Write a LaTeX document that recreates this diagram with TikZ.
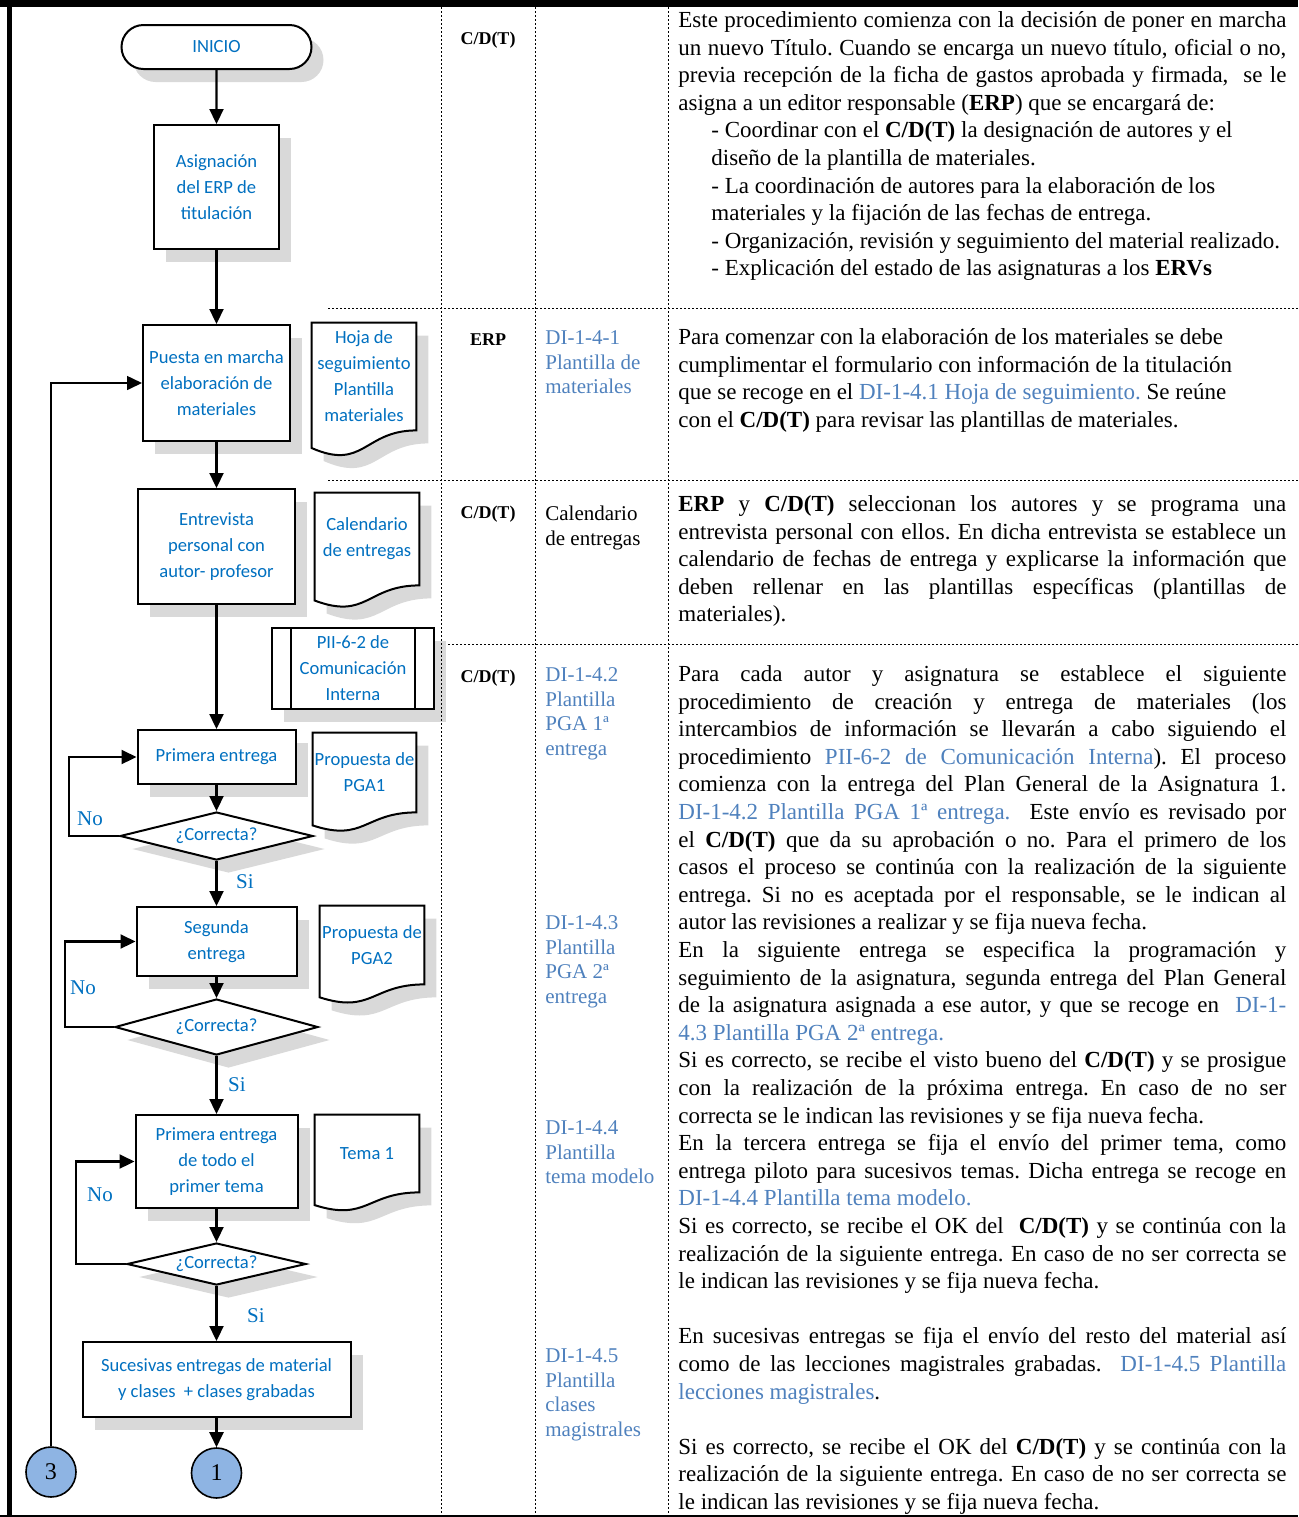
\documentclass[tikz,border=0pt]{standalone}
\usepackage{fontspec}
\setmainfont{Liberation Serif}
\newfontfamily\flowfont{Carlito}
\usepackage{xcolor}
\usepackage{tikz}
\usetikzlibrary{arrows.meta,shapes.geometric,shapes.misc,shadows,backgrounds,calc}

\definecolor{flowblue}{RGB}{0,112,192}
\definecolor{linkblue}{RGB}{79,129,189}
\definecolor{shadowgray}{RGB}{217,217,217}
\definecolor{connfill}{RGB}{142,180,227}

\newcommand{\jline}[1]{\hbox to\hsize{\strut#1}}
\newcommand{\rline}[1]{\hbox{\strut#1}}
\newcommand{\lnk}[1]{{\color{linkblue}#1}}
\newcommand{\docpath}[3]{([shift={#3}]#1.north west) -- ([shift={#3}]#1.north east) -- ([shift={#3}]#1.south east) .. controls ([shift={#3}]#1.south) and ([shift={#3},yshift=-2.31*#2]#1.south) .. ([shift={#3},yshift=-#2]#1.south west) -- cycle}

\tikzstyle{boxshadow}=[drop shadow={shadow xshift=6pt,shadow yshift=-6.5pt,fill=shadowgray,opacity=1}]
\tikzstyle{flowtext}=[font=\flowfont\fontsize{9.3}{13}\selectfont, text=flowblue, align=center]
\tikzstyle{procbox}=[draw, line width=1pt, fill=white, boxshadow, flowtext, inner sep=0pt]
\tikzstyle{termbox}=[rounded rectangle, procbox]
\tikzstyle{decbox}=[diamond, aspect=4, procbox]
\tikzstyle{docbox}=[flowtext, inner sep=0pt]
\tikzstyle{connbox}=[circle, draw, line width=0.8pt, fill=connfill, inner sep=0pt, minimum size=25pt, font=\fontsize{12}{14}\selectfont]
\tikzstyle{flowarrow}=[line width=1.1pt, -{Triangle[length=7.5pt,width=7pt]}]
\tikzstyle{backarrow}=[line width=0.8pt, -{Triangle[length=7.5pt,width=7pt]}]
\tikzstyle{answer}=[font=\fontsize{10.5}{12}\selectfont, text=flowblue]
\tikzstyle{gridline}=[line width=0.5pt, dash pattern=on 1pt off 1pt]
\tikzstyle{bodytext}=[anchor=north west, inner sep=0pt, font=\fontsize{11.5}{13.8}\selectfont]
\tikzstyle{reftext}=[anchor=north west, inner sep=0pt, font=\fontsize{10.5}{12.25}\selectfont, text=linkblue]
\tikzstyle{resp}=[font=\bfseries\fontsize{9}{11}\selectfont]

\begin{document}
\frenchspacing
\begin{tikzpicture}[x=0.5pt, y=-0.5pt]
    \useasboundingbox (0,0) rectangle (1298,1517);

    \foreach \yy in {308,480,644} \draw[gridline] (328,\yy) -- (1298,\yy);

    \node[termbox, minimum width=95pt, minimum height=22pt] (inicio) at (216.5,47) {INICIO};
    \node[procbox, minimum width=62.5pt, minimum height=62pt] (asig) at (216.5,187) {Asignación\\del ERP de\\titulación};
    \node[procbox, minimum width=73.5pt, minimum height=58pt] (puesta) at (216.5,383) {Puesta en marcha\\elaboración de\\materiales};
    \node[procbox, minimum width=78.5pt, minimum height=57.5pt] (entrev) at (216.5,546.5) {Entrevista\\personal con\\autor- profesor};
    \node[procbox, minimum width=81pt, minimum height=40.5pt] (pii) at (353,668.5) {PII-6-2 de\\Comunicación\\Interna};
    \draw[line width=1pt] ([xshift=10pt]pii.north west) -- ([xshift=10pt]pii.south west);
    \draw[line width=1pt] ([xshift=-10pt]pii.north east) -- ([xshift=-10pt]pii.south east);
    \node[procbox, minimum width=79pt, minimum height=27pt] (prim) at (216.5,757) {Primera entrega};
    \node[decbox, minimum width=96.5pt, minimum height=24pt] (dec1) at (216.5,836) {¿Correcta?};
    \node[procbox, minimum width=80pt, minimum height=34.5pt] (seg) at (216.5,941.5) {Segunda\\entrega};
    \node[decbox, minimum width=101.5pt, minimum height=28pt] (dec2) at (216.5,1027) {¿Correcta?};
    \node[procbox, minimum width=81pt, minimum height=46.5pt] (tema) at (216.5,1161.5) {Primera entrega\\de todo el\\primer tema};
    \node[decbox, minimum width=89.5pt, minimum height=21pt] (dec3) at (216.5,1264) {¿Correcta?};
    \node[procbox, minimum width=134pt, minimum height=37.5pt] (suc) at (216.5,1379.5) {Sucesivas entregas de material\\y clases~\ + clases grabadas};
    \node[connbox] (conA) at (216.5,1473) {1};
    \node[connbox] (conC) at (51,1472) {3};

    \node[docbox, minimum width=52pt, minimum height=53.5pt] (hoja) at (364,376.5) {Hoja de\\seguimiento\\Plantilla\\materiales};
    \node[docbox, minimum width=52pt, minimum height=46pt] (calend) at (367,539) {Calendario\\de entregas};
    \node[docbox, minimum width=51.5pt, minimum height=39.5pt] (pga1) at (364.5,772.5) {Propuesta de\\PGA1};
    \node[docbox, minimum width=52pt, minimum height=39pt] (pga2) at (372,945) {Propuesta de\\PGA2};
    \node[docbox, minimum width=52pt, minimum height=38.5pt] (temauno) at (367,1153.5) {Tema 1};
    \begin{scope}[on background layer]
        \foreach \dn/\dd in {hoja/8.8pt, calend/7.55pt, pga1/6.5pt, pga2/6.45pt, temauno/6.35pt}{
            \fill[shadowgray] \docpath{\dn}{\dd}{(12,13)};
            \filldraw[fill=white, line width=1pt] \docpath{\dn}{\dd}{(0,0)};
        }
    \end{scope}

    \draw[flowarrow] (inicio) -- (asig);
    \draw[flowarrow] (asig) -- (puesta);
    \draw[flowarrow] (puesta) -- (entrev);
    \draw[flowarrow] (entrev) -- (prim);
    \draw[flowarrow] (prim) -- (dec1);
    \draw[flowarrow] (dec1) -- (seg);
    \draw[flowarrow] (seg) -- (dec2);
    \draw[flowarrow] (dec2) -- (tema);
    \draw[flowarrow] (tema) -- (dec3);
    \draw[flowarrow] (dec3) -- (suc);
    \draw[flowarrow] (suc) -- (conA);
    \draw[flowarrow] (dec1.west) -- ++(-50,0) |- (prim.west);
    \draw[flowarrow] (dec2.west) -- ++(-49,0) |- (seg.west);
    \draw[flowarrow] (dec3.west) -- ++(-50,0) |- (tema.west);
    \draw[backarrow] (conC) |- (puesta.west);

    \node[answer] (no1) at (90,819) {No};
    \node[answer] (si1) at (245,882) {Si};
    \node[answer] (no2) at (83,988) {No};
    \node[answer] (si2) at (237,1085) {Si};
    \node[answer] (no3) at (100,1195) {No};
    \node[answer] (si3) at (256,1316) {Si};

    \foreach \xx in {441,535,668} \draw[gridline] (\xx,7) -- (\xx,1515);

    \draw[line width=3.5pt] (0,3.5) -- (1298,3.5);
    \draw[line width=2.5pt] (9.5,0) -- (9.5,1517);
    \draw[line width=1pt] (0,1515.5) -- (1298,1515.5);

    \node[resp] (respA) at (488,40) {C/D(T)};
    \node[resp] (respB) at (488,340) {ERP};
    \node[resp] (respC) at (488,514) {C/D(T)};
    \node[resp] (respD) at (488,678) {C/D(T)};

    \node[reftext] (refmat) at (545,327.4) {\vbox{\rline{DI-1-4-1}\rline{Plantilla de}\rline{materiales}}};
    \node[reftext, text=black] (refcal) at (545,503.4) {\vbox{\rline{Calendario}\rline{de entregas}}};
    \node[reftext] (refpga1) at (545,664.4) {\vbox{\rline{DI-1-4.2}\rline{Plantilla}\rline{PGA 1ª}\rline{entrega}}};
    \node[reftext] (refpga2) at (545,912.4) {\vbox{\rline{DI-1-4.3}\rline{Plantilla}\rline{PGA 2ª}\rline{entrega}}};
    \node[reftext] (reftema) at (545,1117.4) {\vbox{\rline{DI-1-4.4}\rline{Plantilla}\rline{tema modelo}}};
    \node[reftext] (refclases) at (545,1345.4) {\vbox{\rline{DI-1-4.5}\rline{Plantilla}\rline{clases}\rline{magistrales}}};

    \node[bodytext] (txtinicio) at (678,7.7) {\vbox{\hsize=304pt
        \jline{Este procedimiento comienza con la decisión de poner en marcha}
        \jline{un nuevo Título. Cuando se encarga un nuevo título, oficial o no,}
        \jline{previa recepción de la ficha de gastos aprobada y firmada,\ \ se le}
        \rline{asigna a un editor responsable (\textbf{ERP}) que se encargará de:}
        \rline{\hspace*{16.5pt}- Coordinar con el \textbf{C/D(T)} la designación de autores y el}
        \rline{\hspace*{16.5pt}diseño de la plantilla de materiales.}
        \rline{\hspace*{16.5pt}- La coordinación de autores para la elaboración de los}
        \rline{\hspace*{16.5pt}materiales y la fijación de las fechas de entrega.}
        \rline{\hspace*{16.5pt}- Organización, revisión y seguimiento del material realizado.}
        \rline{\hspace*{16.5pt}- Explicación del estado de las asignaturas a los \textbf{ERVs}}}};

    \node[bodytext] (txtplantilla) at (678,324.7) {\vbox{\hsize=304pt
        \rline{Para comenzar con la elaboración de los materiales se debe}
        \rline{cumplimentar el formulario con información de la titulación}
        \rline{que se recoge en el \lnk{DI-1-4.1 Hoja de seguimiento.} Se reúne}
        \rline{con el \textbf{C/D(T)} para revisar las plantillas de materiales.}}};

    \node[bodytext] (txtentrevista) at (678,491.7) {\vbox{\hsize=304pt
        \jline{\textbf{ERP} y \textbf{C/D(T)} seleccionan los autores y se programa una}
        \jline{entrevista personal con ellos. En dicha entrevista se establece un}
        \jline{calendario de fechas de entrega y explicarse la información que}
        \jline{deben rellenar en las plantillas específicas (plantillas de}
        \rline{materiales).}}};

    \node[bodytext] (txtentregas) at (678,661.7) {\vbox{\hsize=304pt
        \jline{Para cada autor y asignatura se establece el siguiente}
        \jline{procedimiento de creación y entrega de materiales (los}
        \jline{intercambios de información se llevarán a cabo siguiendo el}
        \jline{procedimiento \lnk{PII-6-2 de Comunicación Interna}). El proceso}
        \jline{comienza con la entrega del Plan General de la Asignatura 1.}
        \jline{\lnk{DI-1-4.2 Plantilla PGA 1ª entrega.}\ \ Este envío es revisado por}
        \jline{el \textbf{C/D(T)} que da su aprobación o no. Para el primero de los}
        \jline{casos el proceso se continúa con la realización de la siguiente}
        \jline{entrega. Si no es aceptada por el responsable, se le indican al}
        \rline{autor las revisiones a realizar y se fija nueva fecha.}
        \jline{En la siguiente entrega se especifica la programación y}
        \jline{seguimiento de la asignatura, segunda entrega del Plan General}
        \jline{de la asignatura asignada a ese autor, y que se recoge en\ \ \lnk{DI-1-}}
        \rline{\lnk{4.3 Plantilla PGA 2ª entrega.}}
        \jline{Si es correcto, se recibe el visto bueno del \textbf{C/D(T)} y se prosigue}
        \jline{con la realización de la próxima entrega. En caso de no ser}
        \rline{correcta se le indican las revisiones y se fija nueva fecha.}
        \jline{En la tercera entrega se fija el envío del primer tema, como}
        \jline{entrega piloto para sucesivos temas. Dicha entrega se recoge en}
        \rline{\lnk{DI-1-4.4 Plantilla tema modelo.}}
        \jline{Si es correcto, se recibe el OK del\ \ \textbf{C/D(T)} y se continúa con la}
        \jline{realización de la siguiente entrega. En caso de no ser correcta se}
        \rline{le indican las revisiones y se fija nueva fecha.}
        \rline{}
        \jline{En sucesivas entregas se fija el envío del resto del material así}
        \jline{como de las lecciones magistrales grabadas.\ \ \lnk{DI-1-4.5 Plantilla}}
        \rline{\lnk{lecciones magistrales}.}
        \rline{}
        \jline{Si es correcto, se recibe el OK del \textbf{C/D(T)} y se continúa con la}
        \jline{realización de la siguiente entrega. En caso de no ser correcta se}
        \rline{le indican las revisiones y se fija nueva fecha.}}};
\end{tikzpicture}
\end{document}
